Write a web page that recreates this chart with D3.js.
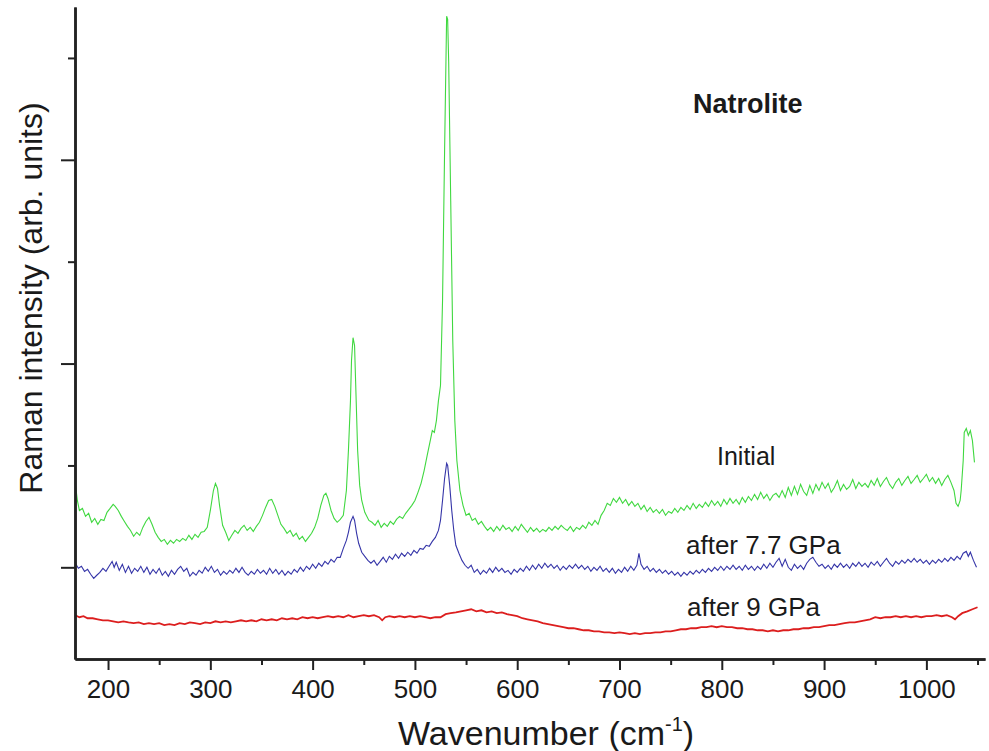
<!DOCTYPE html>
<html lang="en">
<head>
<meta charset="UTF-8">
<title>Natrolite Raman spectra</title>
<script src="https://cdn.jsdelivr.net/npm/d3@7"></script>
<style>
  body { margin: 0; background: #fff; }
  text { font-family: "Liberation Sans", Arial, sans-serif; fill: #1a1a1a; }
</style>
</head>
<body>
<div id="chart"></div>
<script>
// [wavenumber (cm-1), intensity (arb. units)]
var initial = [[168,412],[170,328],[172,279],[175,289],[178,250],[181,265],[184,221],[187,240],[190,211],[193,235],[196,230],[199,270],[202,289],[205,309],[207,299],[210,279],[213,250],[216,225],[219,201],[222,181],[225,152],[228,172],[231,157],[234,196],[237,225],[240,245],[243,211],[246,172],[249,147],[252,127],[255,137],[258,113],[261,132],[264,118],[267,137],[270,127],[273,142],[276,132],[279,157],[282,137],[285,162],[288,147],[291,172],[294,176],[297,196],[300,279],[303,377],[305,412],[307,387],[309,304],[312,206],[315,172],[318,132],[321,157],[324,181],[327,167],[330,191],[333,206],[336,181],[339,196],[342,176],[345,201],[348,221],[351,255],[354,294],[357,328],[360,333],[363,299],[366,255],[369,211],[372,191],[375,167],[378,181],[381,152],[384,167],[387,137],[390,152],[393,127],[396,147],[399,167],[402,196],[405,240],[408,304],[411,353],[413,363],[415,338],[418,279],[421,240],[424,221],[427,235],[430,255],[433,377],[435,573],[437,818],[438,1014],[439.5,1127],[441,1088],[442,916],[444,573],[446,402],[448,328],[451,270],[455,230],[458,221],[461,206],[464,230],[467,196],[470,216],[473,201],[476,225],[479,211],[482,235],[485,250],[488,240],[491,265],[494,284],[497,304],[500,328],[503,368],[506,412],[509,475],[512,549],[515,622],[517,671],[519,662],[521,720],[523,818],[525,892],[527,1308],[529,2043],[531,2705],[532,2690],[533,2484],[535,1798],[537,1112],[539,720],[541,524],[544,377],[547,304],[550,255],[553,265],[556,230],[559,240],[562,211],[565,225],[568,201],[571,181],[574,196],[577,176],[580,201],[583,181],[586,206],[589,186],[592,196],[595,176],[598,201],[601,181],[604,211],[607,191],[610,172],[613,196],[616,176],[619,191],[622,172],[625,186],[628,176],[631,196],[634,181],[637,201],[640,186],[643,206],[646,191],[649,181],[652,201],[655,176],[658,196],[661,186],[664,206],[667,191],[670,221],[673,206],[676,230],[679,211],[682,255],[685,279],[688,314],[691,304],[694,338],[697,319],[700,343],[703,314],[706,333],[709,304],[712,323],[715,299],[718,314],[721,284],[724,304],[727,274],[730,294],[733,270],[736,284],[739,265],[742,284],[745,255],[748,274],[751,265],[754,289],[757,270],[760,294],[763,279],[766,304],[769,284],[772,314],[775,289],[778,309],[781,294],[784,319],[787,299],[790,328],[793,304],[796,323],[799,299],[802,333],[805,309],[808,338],[811,314],[814,333],[817,309],[820,343],[823,319],[826,348],[829,328],[832,358],[835,333],[838,368],[841,338],[844,358],[847,328],[850,353],[853,363],[856,343],[859,377],[862,343],[865,392],[868,353],[871,397],[874,358],[877,407],[880,372],[883,353],[886,402],[889,363],[892,407],[895,377],[898,417],[901,387],[904,412],[907,368],[910,392],[913,426],[916,377],[919,407],[922,382],[925,397],[928,431],[931,387],[934,417],[937,397],[940,412],[943,392],[946,426],[949,402],[952,436],[955,397],[958,421],[961,441],[964,407],[967,387],[970,417],[973,436],[976,402],[979,426],[982,446],[985,412],[988,431],[991,451],[994,417],[997,436],[1000,456],[1003,421],[1006,441],[1009,412],[1012,436],[1015,402],[1018,431],[1021,451],[1024,417],[1027,377],[1029,314],[1031,299],[1033,328],[1034,377],[1036,524],[1037,662],[1039,681],[1041,647],[1043,671],[1045,622],[1047,515]];

var after77 = [[168,20],[171,-5],[174,5],[177,-20],[180,-10],[183,-34],[186,-54],[189,-39],[192,-25],[195,-5],[198,-20],[201,5],[204,29],[206,0],[208,25],[211,-15],[214,15],[217,-25],[220,5],[223,-29],[226,-5],[229,-20],[232,5],[235,-25],[238,0],[241,-34],[244,-10],[247,-29],[250,-5],[253,-39],[256,-20],[259,-44],[262,-15],[265,-34],[268,-10],[271,5],[274,-20],[277,-5],[280,-44],[283,-25],[286,-39],[289,-15],[292,-29],[295,0],[298,-20],[301,5],[304,-25],[307,-10],[310,-39],[313,-20],[316,-34],[319,-15],[322,-29],[325,-5],[328,-25],[331,0],[334,-25],[337,-39],[340,-20],[343,-34],[346,-10],[349,-29],[352,-15],[355,-34],[358,-5],[361,-29],[364,-10],[367,-34],[370,-15],[373,-39],[376,-20],[379,-34],[382,-10],[385,-25],[388,0],[391,-20],[394,5],[397,-10],[400,15],[403,-5],[406,20],[409,5],[412,29],[415,15],[418,39],[421,25],[424,49],[427,49],[430,93],[433,132],[435,172],[437,221],[439.5,250],[441,230],[443,167],[445,118],[448,74],[451,54],[454,34],[457,20],[460,34],[463,10],[466,29],[469,49],[472,25],[475,54],[478,39],[481,64],[484,44],[487,69],[490,54],[493,74],[496,59],[499,83],[502,69],[505,93],[508,88],[511,108],[514,103],[517,127],[520,147],[523,181],[525,230],[527,328],[529,436],[531,510],[532,500],[534,402],[536,279],[538,181],[540,108],[543,69],[546,34],[549,10],[552,-5],[555,10],[558,-25],[561,-10],[564,-34],[567,-15],[570,-29],[573,-5],[576,-25],[579,0],[582,-20],[585,-5],[588,-25],[591,-15],[594,-34],[597,-10],[600,-25],[603,-5],[606,-20],[609,5],[612,-15],[615,10],[618,-10],[621,15],[624,-5],[627,20],[630,0],[633,15],[636,-5],[639,10],[642,-15],[645,5],[648,-10],[651,10],[654,-5],[657,15],[660,-5],[663,10],[666,-10],[669,5],[672,-20],[675,0],[678,-15],[681,5],[684,-20],[687,-5],[690,-25],[693,-5],[696,-29],[699,-10],[702,-25],[705,0],[708,-20],[711,5],[714,-15],[717,10],[719,69],[721,15],[724,-10],[727,5],[730,-20],[733,-5],[736,-25],[739,-10],[742,-29],[745,-15],[748,-34],[751,-20],[754,-39],[757,-25],[760,-44],[763,-25],[766,-39],[769,-20],[772,-34],[775,-15],[778,-29],[781,-10],[784,-25],[787,-5],[790,-20],[793,0],[796,-15],[799,5],[802,-15],[805,5],[808,-10],[811,10],[814,-10],[817,5],[820,-15],[823,10],[826,-10],[829,5],[832,-15],[835,5],[838,-10],[841,15],[844,-5],[847,20],[850,0],[853,25],[856,44],[859,5],[862,39],[865,0],[868,-15],[871,15],[874,-5],[877,10],[880,-10],[883,20],[886,39],[889,49],[892,25],[895,5],[898,15],[901,-5],[904,10],[907,-10],[910,15],[913,0],[916,20],[919,0],[922,15],[925,-5],[928,20],[931,5],[934,25],[937,5],[940,20],[943,0],[946,25],[949,10],[952,29],[955,5],[958,25],[961,44],[964,20],[967,5],[970,29],[973,15],[976,34],[979,20],[982,39],[985,25],[988,44],[991,25],[994,39],[997,20],[1000,34],[1003,15],[1006,34],[1009,20],[1012,39],[1015,25],[1018,44],[1021,29],[1024,49],[1027,34],[1030,54],[1033,39],[1036,69],[1039,78],[1041,54],[1043,74],[1046,34],[1049,0]];

var after9 = [[168,-235],[172,-245],[176,-240],[180,-250],[185,-250],[190,-255],[195,-260],[200,-260],[205,-265],[210,-270],[215,-265],[220,-270],[225,-274],[230,-270],[235,-279],[240,-274],[245,-279],[250,-274],[255,-284],[260,-279],[265,-284],[270,-274],[275,-279],[280,-270],[285,-274],[290,-279],[295,-270],[300,-274],[305,-265],[310,-270],[315,-265],[320,-270],[325,-265],[330,-260],[335,-265],[340,-260],[345,-265],[350,-255],[355,-260],[360,-255],[365,-260],[370,-250],[375,-255],[380,-250],[385,-255],[390,-245],[395,-250],[400,-245],[405,-250],[410,-245],[415,-240],[420,-245],[425,-240],[430,-245],[435,-235],[440,-245],[445,-240],[450,-235],[455,-240],[460,-235],[465,-245],[468,-260],[471,-245],[475,-240],[480,-245],[485,-240],[490,-245],[495,-240],[500,-245],[505,-240],[510,-245],[515,-250],[520,-245],[525,-245],[530,-230],[535,-225],[540,-221],[545,-216],[550,-211],[555,-206],[560,-216],[565,-211],[570,-221],[575,-216],[580,-225],[585,-221],[590,-230],[595,-235],[600,-240],[605,-250],[610,-255],[615,-260],[620,-265],[625,-274],[630,-279],[635,-284],[640,-289],[645,-294],[650,-299],[655,-299],[660,-304],[665,-309],[670,-309],[675,-314],[680,-314],[685,-319],[690,-319],[695,-323],[700,-319],[705,-323],[710,-328],[715,-323],[720,-328],[725,-323],[730,-323],[735,-319],[740,-319],[745,-314],[750,-314],[755,-309],[760,-304],[765,-304],[770,-299],[775,-299],[780,-294],[785,-294],[790,-289],[795,-294],[800,-289],[805,-294],[810,-294],[815,-299],[820,-299],[825,-304],[830,-304],[835,-309],[840,-309],[845,-314],[850,-309],[855,-314],[860,-309],[865,-309],[870,-304],[875,-304],[880,-299],[885,-299],[890,-294],[895,-294],[900,-289],[905,-284],[910,-284],[915,-279],[920,-274],[925,-270],[930,-270],[935,-265],[940,-260],[945,-255],[950,-245],[955,-250],[960,-245],[965,-245],[970,-240],[975,-245],[980,-240],[985,-245],[990,-240],[995,-245],[1000,-240],[1005,-240],[1010,-235],[1015,-240],[1020,-235],[1025,-245],[1028,-255],[1031,-240],[1035,-225],[1040,-216],[1045,-206],[1050,-196]];

var xMajor = [200, 300, 400, 500, 600, 700, 800, 900, 1000];
var xMinor = [250, 350, 450, 550, 650, 750, 850, 950, 1050];
var yMajor = [0, 1000, 2000];
var yMinor = [500, 1500, 2500];

var width = 989, height = 751;
var margin = {top: 7, right: 4, bottom: 92, left: 75};

var svg = d3.select("#chart")
    .append("svg")
    .attr("width", width)
    .attr("height", height)
    .style("background", "#fff");

var x = d3.scaleLinear()
    .domain([167.7, 1057.3])
    .range([margin.left, width - margin.right]);

var y = d3.scaleLinear()
    .domain([-450, 2750])
    .range([height - margin.bottom, margin.top]);

// spectra
var line = d3.line()
    .x(function(d) { return x(d[0]); })
    .y(function(d) { return y(d[1]); });

svg.append("path").datum(after9)
    .attr("fill", "none").attr("stroke", "#dc1e1e").attr("stroke-width", 1.8)
    .attr("d", line);
svg.append("path").datum(after77)
    .attr("fill", "none").attr("stroke", "#3535a8").attr("stroke-width", 1.1)
    .attr("d", line);
svg.append("path").datum(initial)
    .attr("fill", "none").attr("stroke", "#40d840").attr("stroke-width", 1.1)
    .attr("d", line);

// x axis
var xAxis = svg.append("g")
    .attr("transform", "translate(0," + (height - margin.bottom) + ")");
xAxis.append("g")
    .call(d3.axisBottom(x).tickValues(xMinor).tickSize(6).tickSizeOuter(0).tickFormat(""));
xAxis.append("g")
    .call(d3.axisBottom(x).tickValues(xMajor).tickSize(11).tickSizeOuter(0).tickPadding(10).tickFormat(d3.format("d")));
xAxis.selectAll("text").style("font-size", "26px").attr("fill", "#1a1a1a");

// y axis
var yAxis = svg.append("g")
    .attr("transform", "translate(" + margin.left + ",0)");
yAxis.append("g")
    .call(d3.axisLeft(y).tickValues(yMinor).tickSize(7).tickSizeOuter(0).tickFormat(""));
yAxis.append("g")
    .call(d3.axisLeft(y).tickValues(yMajor).tickSize(14).tickSizeOuter(0).tickFormat(""));

svg.selectAll(".domain").attr("stroke", "#222").attr("stroke-width", 2.5);
svg.selectAll(".tick line").attr("stroke", "#222").attr("stroke-width", 2);

// axis titles
var xt = svg.append("text")
    .attr("x", 398).attr("y", 745)
    .style("font-size", "34px");
xt.append("tspan").text("Wavenumber (cm");
xt.append("tspan").attr("dy", -14).style("font-size", "20px").text("-1");
xt.append("tspan").attr("dy", 14).text(")");

svg.append("text")
    .attr("transform", "translate(42,298) rotate(-90)")
    .attr("text-anchor", "middle")
    .style("font-size", "32px")
    .text("Raman intensity (arb. units)");

// labels
svg.append("text").attr("x", 693).attr("y", 113)
    .style("font-size", "27px").style("font-weight", "bold")
    .text("Natrolite");
svg.append("text").attr("x", 717).attr("y", 465)
    .style("font-size", "25px").text("Initial");
svg.append("text").attr("x", 686).attr("y", 554)
    .style("font-size", "26px").text("after 7.7 GPa");
svg.append("text").attr("x", 687).attr("y", 616)
    .style("font-size", "26px").text("after 9 GPa");
</script>
</body>
</html>
